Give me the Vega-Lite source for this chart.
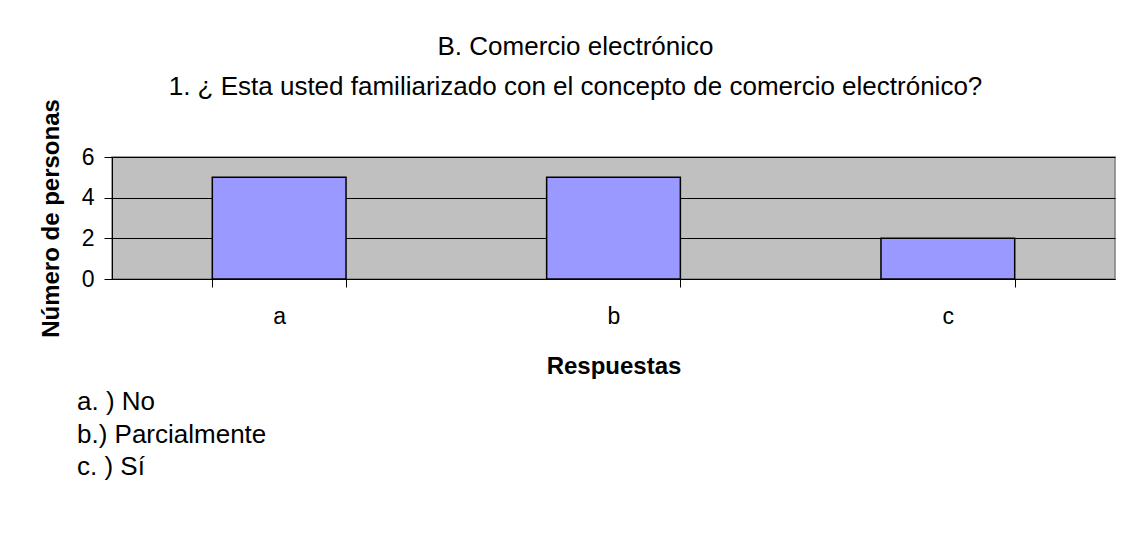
{
  "$schema": "https://vega.github.io/schema/vega-lite/v6.json",
  "width": 1003,
  "height": 122,
  "autosize": "none",
  "padding": {"left": 112, "top": 157, "right": 7, "bottom": 257},
  "background": "white",
  "data": {
    "values": [
      {"respuesta": "a", "personas": 5},
      {"respuesta": "b", "personas": 5},
      {"respuesta": "c", "personas": 2}
    ]
  },
  "title": {
    "text": ["B. Comercio electrónico", "1. ¿ Esta usted familiarizado con el concepto de comercio electrónico?"],
    "font": "Liberation Sans",
    "fontSize": 26,
    "fontWeight": "normal",
    "color": "black",
    "anchor": "middle",
    "dx": -38,
    "dy": 59,
    "lineHeight": 40,
    "offset": 58
  },
  "mark": {"type": "bar", "fill": "#9999FF", "stroke": "black", "strokeWidth": 1.5},
  "encoding": {
    "x": {
      "field": "respuesta",
      "type": "nominal",
      "scale": {"paddingInner": 0.6, "paddingOuter": 0.3},
      "axis": {
        "title": "Respuestas",
        "titleFont": "Liberation Sans",
        "titleFontSize": 24,
        "titleFontWeight": "bold",
        "titleColor": "black",
        "titlePadding": 26,
        "labelAngle": 0,
        "labelFont": "Liberation Sans",
        "labelFontSize": 23,
        "labelColor": "black",
        "labelPadding": 18,
        "tickBand": "extent",
        "tickSize": 8,
        "tickColor": "black",
        "domainColor": "black",
        "grid": false
      }
    },
    "y": {
      "field": "personas",
      "type": "quantitative",
      "scale": {"domain": [0, 6]},
      "axis": {
        "title": "Número de personas",
        "titleFont": "Liberation Sans",
        "titleFontSize": 24,
        "titleFontWeight": "bold",
        "titleColor": "black",
        "titleX": -61,
        "titleY": 61,
        "titleAlign": "center",
        "titleBaseline": "middle",
        "values": [0, 2, 4, 6],
        "labelFont": "Liberation Sans",
        "labelFontSize": 23,
        "labelColor": "black",
        "labelPadding": 10,
        "tickSize": 8,
        "tickColor": "black",
        "domainColor": "black",
        "grid": true,
        "gridColor": "black",
        "gridOpacity": 1
      }
    },
    "color": {
      "field": "respuesta",
      "type": "nominal",
      "scale": {"range": ["#9999FF", "#9999FF", "#9999FF"]},
      "legend": {
        "title": null,
        "orient": "none",
        "legendX": -61,
        "legendY": 232,
        "direction": "vertical",
        "symbolSize": 0,
        "symbolOpacity": 0,
        "labelOffset": 0,
        "labelFont": "Liberation Sans",
        "labelFontSize": 26,
        "labelColor": "black",
        "labelLimit": 400,
        "rowPadding": 6.5,
        "labelExpr": "{'a': 'a. ) No', 'b': 'b.) Parcialmente', 'c': 'c. ) Sí'}[datum.label]"
      }
    }
  },
  "config": {
    "view": {"fill": "#C0C0C0", "stroke": "#808080", "strokeWidth": 1.5}
  }
}
